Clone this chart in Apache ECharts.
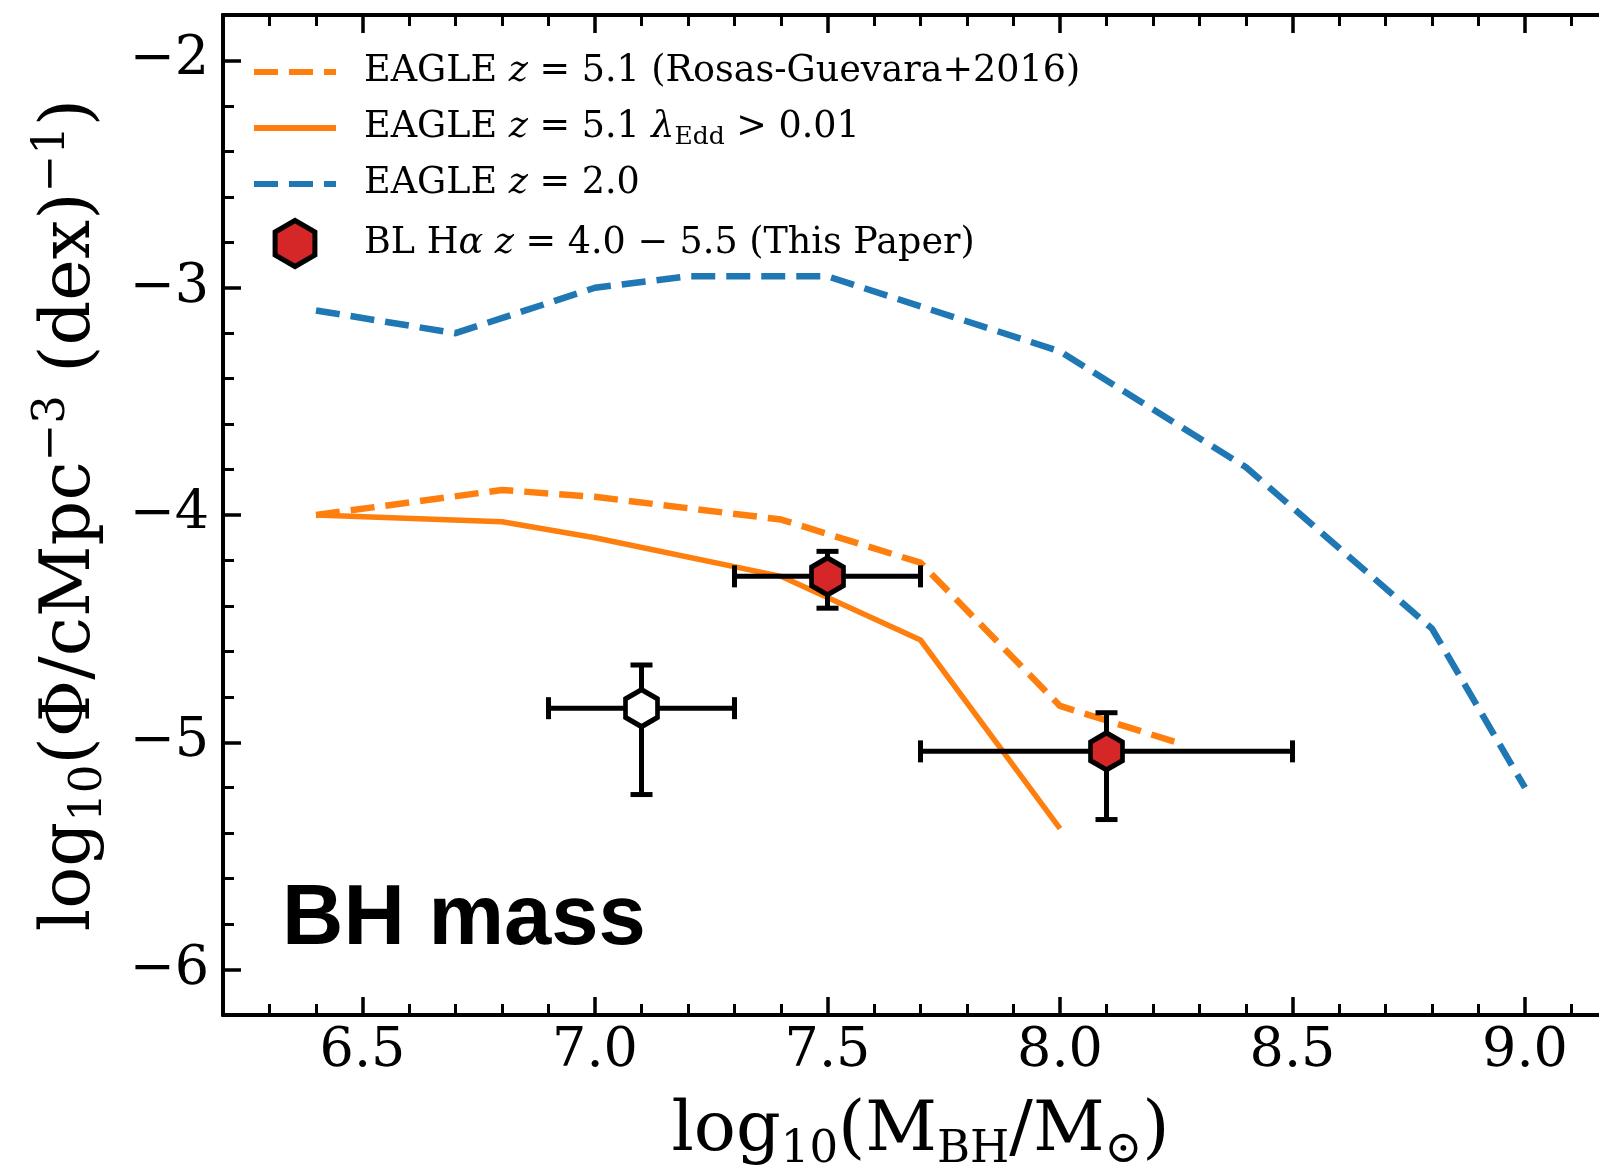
<!DOCTYPE html>
<html>
<head>
<meta charset="utf-8">
<script src="https://cdn.jsdelivr.net/npm/echarts@6/dist/echarts.min.js"></script>
<style>
html, body { margin: 0; padding: 0; background: #fff; }
#main { width: 1599px; height: 1168px; }
</style>
</head>
<body>
<div id="main"></div>
<script>
// EAGLE z=5.1 (Rosas-Guevara+2016)
const rg_x = [6.4, 6.8, 7.0, 7.4, 7.7, 8.0, 8.25];
const rg_y = [-4.0, -3.89, -3.92, -4.02, -4.21, -4.84, -5.0];
// EAGLE z=5.1, lambda_Edd > 0.01
const edd_x = [6.4, 6.8, 7.0, 7.4, 7.7, 8.0];
const edd_y = [-4.0, -4.03, -4.1, -4.27, -4.55, -5.38];
// EAGLE z=2.0
const z2_x = [6.4, 6.7, 7.0, 7.2, 7.5, 8.0, 8.4, 8.8, 9.0];
const z2_y = [-3.1, -3.2, -3.0, -2.95, -2.95, -3.28, -3.79, -4.5, -5.2];
// BL Halpha z=4.0-5.5 (this paper), with error bounds
const bl_x = [7.5, 8.1];
const bl_y = [-4.27, -5.04];
const bl_xlo = [7.3, 7.7];
const bl_xhi = [7.7, 8.5];
const bl_ylo = [-4.41, -5.34];
const bl_yhi = [-4.16, -4.87];
// open point
const op_x = [7.1];
const op_y = [-4.85];
const op_xlo = [6.9];
const op_xhi = [7.3];
const op_ylo = [-5.23];
const op_yhi = [-4.66];
// ticks
const xMajor = [6.5, 7.0, 7.5, 8.0, 8.5, 9.0];
const xMinor = [6.3, 6.4, 6.6, 6.7, 6.8, 6.9, 7.1, 7.2, 7.3, 7.4, 7.6, 7.7, 7.8, 7.9,
                8.1, 8.2, 8.3, 8.4, 8.6, 8.7, 8.8, 8.9, 9.1];
const yMajor = [-6, -5, -4, -3, -2];
const yMinor = [-5.8, -5.6, -5.4, -5.2, -4.8, -4.6, -4.4, -4.2, -3.8, -3.6, -3.4, -3.2,
                -2.8, -2.6, -2.4, -2.2];

const N1 = 'EAGLE z = 5.1 (Rosas-Guevara+2016)';
const N2 = 'EAGLE z = 5.1 lambda_Edd > 0.01';
const N3 = 'EAGLE z = 2.0';
const N4 = 'BL Halpha z = 4.0 - 5.5 (This Paper)';
const legendText = {};
legendText[N1] = 'EAGLE {i|z} = 5.1 (Rosas-Guevara+2016)';
legendText[N2] = 'EAGLE {i|z} = 5.1 {i|λ}{sub|Edd} > 0.01';
legendText[N3] = 'EAGLE {i|z} = 2.0';
legendText[N4] = 'BL H{i|α} {i|z} = 4.0 − 5.5 (This Paper)';

const hexPath = 'path://M0,0 L45,26 L45,78 L0,104 L-45,78 L-45,26 Z';
const SERIF = 'DejaVu Serif';

function pairs(xs, ys) { return xs.map((x, i) => [x, ys[i]]); }
function errRows(x, y, xlo, xhi, ylo, yhi) {
    return x.map((v, i) => [v, y[i], xlo[i], xhi[i], ylo[i], yhi[i]]);
}

function renderErr(params, api) {
    const c = api.coord([api.value(0), api.value(1)]);
    const l = api.coord([api.value(2), api.value(1)]);
    const r = api.coord([api.value(3), api.value(1)]);
    const b = api.coord([api.value(0), api.value(4)]);
    const t = api.coord([api.value(0), api.value(5)]);
    const h = 11;
    const st = { stroke: '#000', lineWidth: 5 };
    const ln = (x1, y1, x2, y2) => ({ type: 'line', shape: { x1, y1, x2, y2 }, style: st });
    return {
        type: 'group',
        children: [
            ln(l[0], c[1], r[0], c[1]),
            ln(c[0], t[1], c[0], b[1]),
            ln(l[0], c[1] - h, l[0], c[1] + h),
            ln(r[0], c[1] - h, r[0], c[1] + h),
            ln(c[0] - h, t[1], c[0] + h, t[1]),
            ln(c[0] - h, b[1], c[0] + h, b[1])
        ]
    };
}

const lineAx = { show: true, onZero: false, lineStyle: { color: '#000', width: 3.8 } };
const tickLabel = { fontFamily: SERIF, fontSize: 54, color: '#000' };

function xAx(pos, ticks, len, labels) {
    return {
        type: 'value', position: pos, min: 6.2, max: 9.2,
        axisLine: lineAx,
        axisTick: { show: true, inside: true, customValues: ticks, length: len,
                    lineStyle: { color: '#000', width: len > 14 ? 3.5 : 3 } },
        axisLabel: labels ? Object.assign({ customValues: xMajor, margin: 10,
                    formatter: v => v.toFixed(1) }, tickLabel) : { show: false },
        splitLine: { show: false }
    };
}
function yAx(ticks, len, labels) {
    return {
        type: 'value', position: 'left', min: -6.2, max: -1.8,
        axisLine: lineAx,
        axisTick: { show: true, inside: true, customValues: ticks, length: len,
                    lineStyle: { color: '#000', width: len > 14 ? 3.5 : 3 } },
        axisLabel: labels ? Object.assign({ customValues: yMajor, margin: 14,
                    formatter: v => (v < 0 ? '−' : '') + Math.abs(v) }, tickLabel) : { show: false },
        splitLine: { show: false }
    };
}

const nameRich = {
    sub: { fontFamily: SERIF, fontSize: 45, lineHeight: 46, verticalAlign: 'bottom', color: '#000' },
    sup: { fontFamily: SERIF, fontSize: 45, lineHeight: 45, verticalAlign: 'top', color: '#000' }
};

const xAxes = [xAx('bottom', xMajor, 18, true), xAx('bottom', xMinor, 11, false),
               xAx('top', xMajor, 18, false), xAx('top', xMinor, 11, false)];
xAxes[0].name = 'log{sub|10}(M{sub|BH}/M{sub|⊙})';
xAxes[0].nameLocation = 'middle';
xAxes[0].nameGap = 76;
xAxes[0].nameTextStyle = { fontFamily: SERIF, fontSize: 70, lineHeight: 82, color: '#000', rich: nameRich };

const yAxes = [yAx(yMajor, 18, true), yAx(yMinor, 11, false)];
yAxes[0].name = 'log{sub|10}(Φ/cMpc{sup|−3} (dex){sup|−1})';
yAxes[0].nameLocation = 'middle';
yAxes[0].nameRotate = 90;
yAxes[0].nameGap = 111;
yAxes[0].nameTextStyle = { fontFamily: SERIF, fontSize: 70, lineHeight: 82, color: '#000', rich: nameRich };

// hide the circle that line-series legend icons draw in the middle
const noDot = { color: 'rgba(0,0,0,0)', borderWidth: 0, opacity: 0 };

const option = {
    animation: false,
    backgroundColor: '#fff',
    grid: { left: 223, right: -19, top: 15, bottom: 153, containLabel: false, outerBoundsMode: 'none' },
    xAxis: xAxes,
    yAxis: yAxes,
    legend: {
        orient: 'vertical', left: 246, top: 45,
        itemWidth: 82, itemHeight: 46, itemGap: 12,
        selectedMode: false,
        data: [{ name: N1, itemStyle: noDot }, { name: N2, itemStyle: noDot }, { name: N3, itemStyle: noDot },
               { name: N4, itemStyle: { borderWidth: 5, borderColor: '#000' } }],
        lineStyle: { width: 6 },
        formatter: n => legendText[n],
        textStyle: {
            fontFamily: SERIF, fontSize: 36.5, color: '#000', lineHeight: 44,
            padding: [0, 0, 0, 23],
            rich: {
                i: { fontFamily: SERIF, fontSize: 36.5, fontStyle: 'italic', color: '#000' },
                sub: { fontFamily: SERIF, fontSize: 25, lineHeight: 26, verticalAlign: 'bottom', color: '#000' }
            }
        }
    },
    graphic: [{
        type: 'text', x: 282, y: 921,
        style: { text: 'BH mass', font: 'bold 85px "Liberation Sans"', fill: '#000',
                 align: 'left', verticalAlign: 'middle' }
    }],
    series: [
        {
            name: N3, type: 'line', data: pairs(z2_x, z2_y),
            symbol: 'none', showSymbol: false, z: 2,
            itemStyle: { color: '#1f77b4' },
            lineStyle: { color: '#1f77b4', width: 6.5, type: [24, 11], cap: 'butt' }
        },
        {
            name: N1, type: 'line', data: pairs(rg_x, rg_y),
            symbol: 'none', showSymbol: false, z: 2,
            itemStyle: { color: '#ff7f0e' },
            lineStyle: { color: '#ff7f0e', width: 6.5, type: [24, 11], cap: 'butt' }
        },
        {
            name: N2, type: 'line', data: pairs(edd_x, edd_y),
            symbol: 'none', showSymbol: false, z: 2,
            itemStyle: { color: '#ff7f0e' },
            lineStyle: { color: '#ff7f0e', width: 5.5 }
        },
        {
            type: 'custom', renderItem: renderErr, z: 3,
            encode: { x: [0, 2, 3], y: [1, 4, 5] },
            data: errRows(bl_x, bl_y, bl_xlo, bl_xhi, bl_ylo, bl_yhi)
                .concat(errRows(op_x, op_y, op_xlo, op_xhi, op_ylo, op_yhi))
        },
        {
            name: N4, type: 'scatter', data: pairs(bl_x, bl_y), z: 4,
            symbol: hexPath, symbolSize: [32, 37],
            itemStyle: { color: '#d62728', borderColor: '#000', borderWidth: 5, opacity: 1 }
        },
        {
            name: 'open', type: 'scatter', data: pairs(op_x, op_y), z: 4,
            symbol: hexPath, symbolSize: [32, 37],
            itemStyle: { color: '#fff', borderColor: '#000', borderWidth: 5, opacity: 1 }
        }
    ]
};

const chart = echarts.init(document.getElementById('main'));
chart.setOption(option);
</script>
</body>
</html>
